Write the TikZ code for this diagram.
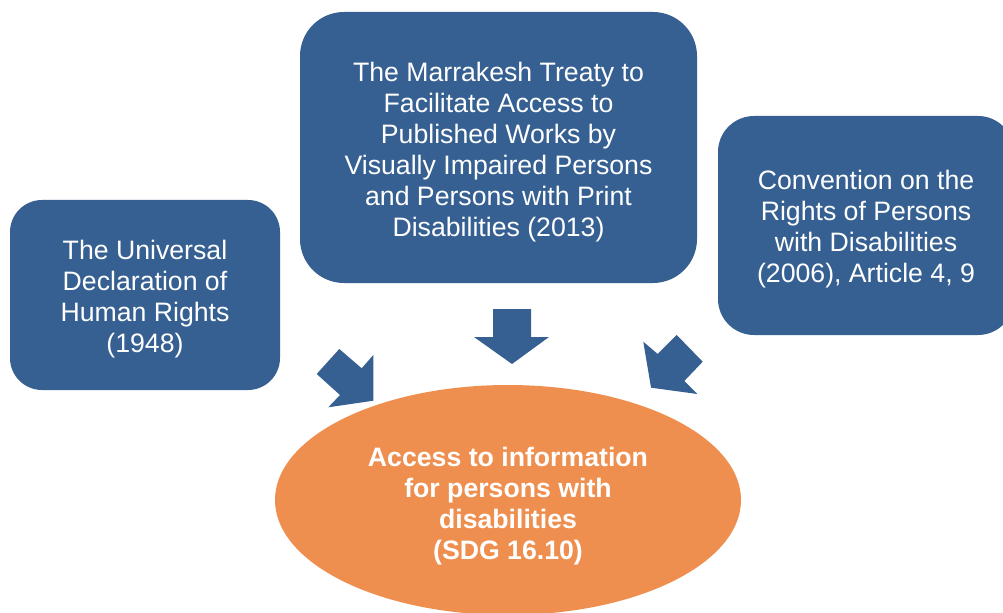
\documentclass[tikz,border=0pt]{standalone}
\usepackage{fontspec}
\setmainfont{Liberation Sans}
\usetikzlibrary{shapes.geometric}
\definecolor{boxblue}{RGB}{54,96,146}
\definecolor{ovalorange}{RGB}{239,143,79}
\tikzset{
  bluebox/.style={fill=boxblue, draw=none, inner sep=0pt},
  boxtext/.style={text=white, align=center,
    font=\fontsize{20pt}{23.25pt}\selectfont, inner sep=0pt},
  blockarrow/.style={fill=boxblue, draw=none},
  goal/.style={ellipse, fill=ovalorange, draw=none, inner sep=0pt,
    minimum width=349.5pt, minimum height=172.5pt},
  goaltext/.style={boxtext, font=\fontsize{20pt}{23.25pt}\selectfont\bfseries}
}
\begin{document}
\begin{tikzpicture}[x=0.75pt,y=-0.75pt]
\clip (0,0) rectangle (1003,613);
% boxes
\node[bluebox, minimum width=202.5pt, minimum height=142.5pt, rounded corners=24pt] (udhr) at (145,295) {};
\node[boxtext] (udhrtext) at ([yshift=-3pt]udhr.center)
  {The Universal\\Declaration of\\Human Rights\\(1948)};
\node[bluebox, minimum width=297.75pt, minimum height=203.25pt, rounded corners=33pt] (mt) at (498.5,147.5) {};
\node[boxtext] (mttext) at ([yshift=-3.75pt]mt.center)
  {The Marrakesh Treaty to\\Facilitate Access to\\Published Works by\\Visually Impaired Persons\\and Persons with Print\\Disabilities (2013)};
\node[bluebox, minimum width=222pt, minimum height=164.25pt, rounded corners=27pt] (crpd) at (866,225.5) {};
\node[boxtext] (crpdtext) at ([yshift=-3pt]crpd.center)
  {Convention on the\\Rights of Persons\\with Disabilities\\(2006), Article 4, 9};
% goal
\node[goal] (goal) at (508,500) {};
\node[goaltext] (goaltext) at ([yshift=-4.5pt]goal.center)
  {Access to information\\for persons with\\disabilities\\(SDG 16.10)};
% block arrows
\fill[blockarrow] (316.7,374) -- (339.3,349) -- (361.7,368.3) -- (373.3,355)
  -- (373.3,400.7) -- (328.3,407.3) -- (340,395) -- cycle;
\fill[blockarrow] (493,309) -- (531,309) -- (531,337) -- (549,337)
  -- (512,364) -- (474,337) -- (493,337) -- cycle;
\fill[blockarrow] (643.3,341.7) -- (657.7,354) -- (676.7,335) -- (702.7,361.7)
  -- (684.3,381) -- (697.3,394) -- (651,387.7) -- cycle;
\end{tikzpicture}
\end{document}
